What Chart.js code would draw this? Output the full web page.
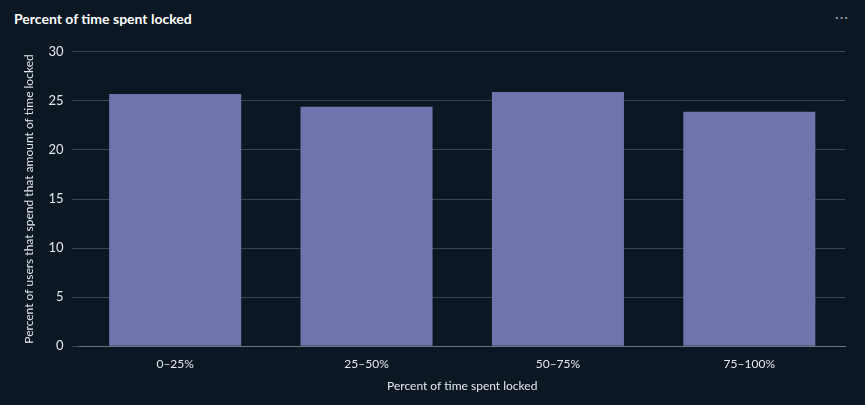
<!DOCTYPE html>
<html>
<head>
<meta charset="utf-8">
<script src="https://cdn.jsdelivr.net/npm/chart.js@4"></script>
<style>
  html, body { margin: 0; padding: 0; background: #0b1722; }
  body { width: 865px; height: 405px; position: relative; overflow: hidden; font-family: Lato, sans-serif; }
  #title { position: absolute; left: 14px; top: 10px; color: #ffffff; font-size: 14px; font-weight: bold; }
  #menu { position: absolute; right: 16px; top: 8px; color: #9aa3ad; font-size: 14px; letter-spacing: 1px; }
  #wrap { position: absolute; left: 0; top: 36px; width: 865px; height: 369px; }
</style>
</head>
<body>
<div id="title">Percent of time spent locked</div>
<div id="menu">···</div>
<div id="wrap"><canvas id="chart"></canvas></div>
<script>
const categories = ['0–25%', '25–50%', '50–75%', '75–100%'];
const values = [25.7, 24.4, 25.9, 23.9];
const yTicks = [0, 5, 10, 15, 20, 25, 30];

const ctx = document.getElementById('chart').getContext('2d');
new Chart(ctx, {
    type: 'bar',
    data: {
        labels: categories,
        datasets: [{
            data: values,
            backgroundColor: '#7074ad',
            borderWidth: 0,
            barPercentage: 0.69,
            categoryPercentage: 1
        }]
    },
    options: {
        responsive: true,
        maintainAspectRatio: false,
        animation: false,
        layout: { padding: { left: 18, right: 20, top: 6, bottom: 8 } },
        plugins: { legend: { display: false }, tooltip: { enabled: false } },
        scales: {
            x: {
                grid: { display: false },
                border: { color: '#6b7580' },
                ticks: { color: '#e6e9ec', font: { family: 'Lato', size: 12 } },
                title: { display: true, text: 'Percent of time spent locked', color: '#e6e9ec', font: { family: 'Lato', size: 12 } }
            },
            y: {
                min: 0,
                max: 30,
                afterBuildTicks: axis => { axis.ticks = yTicks.map(v => ({ value: v })); },
                grid: { color: '#3a4550' },
                border: { display: false },
                ticks: { color: '#e6e9ec', padding: 8, font: { family: 'Lato', size: 13 } },
                title: { display: true, text: 'Percent of users that spend that amount of time locked', color: '#e6e9ec', font: { family: 'Lato', size: 12 } }
            }
        }
    }
});
</script>
</body>
</html>
